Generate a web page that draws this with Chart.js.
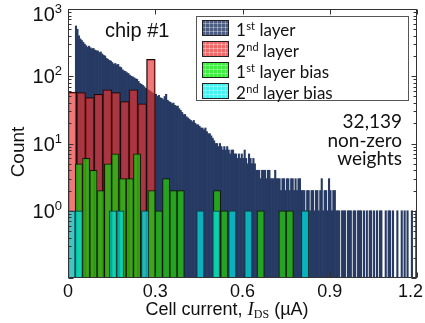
<!DOCTYPE html>
<html>
<head>
<meta charset="utf-8">
<script src="https://cdn.jsdelivr.net/npm/chart.js@4.4.1/dist/chart.umd.min.js"></script>
<style>
  html, body { margin: 0; padding: 0; background: #fff; }
</style>
</head>
<body>
<canvas id="histChart" width="425" height="323"></canvas>
<script>
// 1st layer weights, bins of 0.005 uA from 0 to 1.2
const layer1Bin = 0.005;
const layer1Counts = [
  0, 0, 0, 0, 0, 560, 500, 400, 360, 340,
  320, 300, 285, 270, 280, 265, 255, 260, 245, 240,
  238, 225, 230, 215, 205, 200, 185, 178, 172, 168,
  160, 150, 155, 148, 150, 138, 135, 125, 120, 118,
  113, 110, 104, 100, 98, 95, 92, 90, 84, 78,
  76, 73, 70, 66, 64, 62, 60, 58, 56, 54,
  54, 50, 52, 48, 47, 45, 50, 54, 44, 42,
  41, 39, 40, 37, 36, 36, 33, 31, 29, 27,
  27, 25, 24, 23, 22, 21, 22, 20, 19, 19,
  18, 17, 17, 16, 17, 15, 14, 14, 13, 12,
  11, 10, 10, 9, 10, 9, 8, 9, 8, 9,
  8, 7, 8, 8, 7, 7, 6, 7, 6, 7,
  6, 8, 6, 5, 7, 6, 5, 6, 5, 4,
  4, 4, 3, 4, 4, 4, 3, 4, 4, 3,
  3, 3, 4, 3, 3, 3, 2, 3, 3, 2,
  3, 3, 2, 3, 3, 2, 3, 2, 3, 3,
  2, 2, 2, 1, 2, 2, 1, 2, 2, 1,
  2, 2, 1, 2, 3, 1, 2, 2, 1, 3,
  2, 1, 2, 2, 1, 1, 1, 0, 1, 1,
  1, 0, 1, 1, 1, 0, 1, 1, 0, 1,
  1, 1, 0, 1, 0, 1, 0, 1, 1, 0,
  1, 0, 1, 0, 1, 1, 0, 0, 1, 0,
  1, 1, 0, 1, 0, 0, 1, 0, 0, 1,
  0, 1, 0, 1, 0, 0, 1, 0, 0, 1
];

// 2nd layer weights, bins of 0.03 uA
const layer2Bin = 0.03;
const layer2Counts = [58, 57, 48, 54, 63, 57, 42, 63, 39, 179];

// 1st layer bias, bins of 0.025 uA
const bias1Bin = 0.025;
const bias1Counts = [0, 5, 6, 4, 2, 5, 7, 3, 3, 7, 0, 2, 1, 3, 2, 2, 0, 0, 0, 0, 2, 1, 0, 0, 0, 0, 1, 0, 0, 1, 1];

// 2nd layer bias, bin centres (uA) and counts
const bias2Centers = [0.0125, 0.0375, 0.155, 0.18, 0.265, 0.455, 0.51, 0.565, 0.62, 0.815];
const bias2Counts = [1, 1, 1, 1, 1, 1, 1, 1, 1, 1];

const seriesLabels = ['1st layer', '2nd layer', '1st layer bias', '2nd layer bias'];
const xTickValues = [0, 0.3, 0.6, 0.9, 1.2];
const xTickLabels = ['0', '0.3', '0.6', '0.9', '1.2'];
const yTickValues = [1, 10, 100, 1000];

const fills = ['#263a63', 'rgba(233,54,54,0.67)', 'rgba(40,190,20,0.8)', 'rgba(0,228,228,0.7)'];
const swatchFills = ['#4c5b82', '#f26868', '#3cef3c', '#44f2f2'];

function binned(counts, w) {
  return counts.map((c, i) => ({ x: (i + 0.5) * w, y: c > 0 ? c : null }));
}

const SANS = '"Liberation Sans", Arial, sans-serif';
const SERIF = '"Liberation Serif", "Times New Roman", serif';
const CAL = 'Lato, "Open Sans", sans-serif';

// frame, inward ticks, tick labels, titles, legend and notes
const decorations = {
  id: 'decorations',
  afterDatasetsDraw(chart) {
    const { ctx, chartArea: a, scales } = chart;
    const xs = scales.x, ys = scales.y;
    const L = Math.round(a.left) + 0.5, R = Math.round(a.right) - 0.5;
    const T = Math.round(a.top) + 0.5, B = Math.round(a.bottom) - 0.5;
    ctx.save();
    ctx.strokeStyle = '#333';
    ctx.lineWidth = 1;
    ctx.strokeRect(L, T, R - L, B - T);

    ctx.beginPath();
    xTickValues.forEach(v => {
      const px = Math.round(xs.getPixelForValue(v)) + 0.5;
      ctx.moveTo(px, B); ctx.lineTo(px, B - 5);
      ctx.moveTo(px, T); ctx.lineTo(px, T + 5);
    });
    for (let d = 0.1; d < 1000; d *= 10) {
      for (let m = 1; m < 10; m++) {
        const v = d * m;
        const py = Math.round(ys.getPixelForValue(v)) + 0.5;
        const len = m === 1 ? 5 : 3;
        ctx.moveTo(L, py); ctx.lineTo(L + len, py);
        ctx.moveTo(R, py); ctx.lineTo(R - len, py);
      }
    }
    ctx.stroke();

    // y tick labels 10^n
    ctx.fillStyle = '#111';
    ctx.textBaseline = 'alphabetic';
    yTickValues.forEach(v => {
      const py = ys.getPixelForValue(v);
      const exp = String(Math.round(Math.log10(v)));
      ctx.font = '13px ' + SANS;
      const supW = ctx.measureText(exp).width;
      ctx.font = '20px ' + SANS;
      const baseW = ctx.measureText('10').width;
      const right = 62;
      const base = Math.max(py + 7, 21);
      ctx.textAlign = 'left';
      ctx.fillText('10', right - supW - baseW, base);
      ctx.font = '13px ' + SANS;
      ctx.fillText(exp, right - supW, base - 8);
    });

    // x tick labels
    ctx.font = '18px ' + SANS;
    ctx.textAlign = 'left';
    xTickValues.forEach((v, i) => {
      const w = ctx.measureText(xTickLabels[i]).width;
      let left = xs.getPixelForValue(v) - w / 2;
      if (left + w > 423) left = 423 - w;
      ctx.fillText(xTickLabels[i], left, 297);
    });

    // x title: Cell current, I_DS (uA)
    const parts = [
      { t: 'Cell current, ', f: '18px ' + SANS, dy: 0 },
      { t: 'I', f: 'italic 19px ' + SERIF, dy: 0 },
      { t: 'DS', f: '12px ' + SERIF, dy: 3 },
      { t: ' (\u00b5A)', f: '18px ' + SANS, dy: 0 }
    ];
    let total = 0;
    parts.forEach(p => { ctx.font = p.f; p.w = ctx.measureText(p.t).width; total += p.w; });
    let tx = 227 - total / 2;
    parts.forEach(p => { ctx.font = p.f; ctx.fillText(p.t, tx, 315 + p.dy); tx += p.w; });

    // y title
    ctx.save();
    ctx.translate(24, 152);
    ctx.rotate(-Math.PI / 2);
    ctx.font = '19px ' + SANS;
    ctx.textAlign = 'center';
    ctx.fillText('Count', 0, 0);
    ctx.restore();

    // chip label
    ctx.font = '20px ' + SANS;
    ctx.textAlign = 'left';
    ctx.fillText('chip #1', 105, 37);

    // note on the right
    ctx.font = '19px ' + CAL;
    ctx.textAlign = 'right';
    ctx.fillText('32,139', 402, 128);
    ctx.fillText('non-zero', 402, 146.5);
    ctx.fillText('weights', 402, 164.5);

    // legend
    const bx = 196.5, by = 16.5, bw = 212, bh = 84;
    ctx.fillStyle = '#fff';
    ctx.fillRect(bx, by, bw, bh);
    ctx.strokeStyle = '#555';
    ctx.strokeRect(bx, by, bw, bh);
    seriesLabels.forEach((lab, i) => {
      const sx = 202, sy = 20 + i * 21, sw = 27, sh = 16;
      ctx.fillStyle = swatchFills[i];
      ctx.fillRect(sx, sy, sw, sh);
      ctx.strokeStyle = 'rgba(255,255,255,0.35)';
      ctx.beginPath();
      for (let gx = sx + 3.5; gx < sx + sw; gx += 4) { ctx.moveTo(gx, sy); ctx.lineTo(gx, sy + sh); }
      for (let gy = sy + 3.5; gy < sy + sh; gy += 4) { ctx.moveTo(sx, gy); ctx.lineTo(sx + sw, gy); }
      ctx.stroke();
      ctx.strokeStyle = '#222';
      ctx.strokeRect(sx + 0.5, sy + 0.5, sw - 1, sh - 1);

      const m = lab.match(/^(\d)(st|nd|rd|th)(.*)$/);
      const base = sy + 15.5;
      let lx = 236;
      ctx.fillStyle = '#111';
      ctx.textAlign = 'left';
      ctx.font = '17px ' + CAL;
      ctx.fillText(m[1], lx, base);
      lx += ctx.measureText(m[1]).width + 0.5;
      ctx.font = '11px ' + CAL;
      ctx.fillText(m[2], lx, base - 6);
      lx += ctx.measureText(m[2]).width;
      ctx.font = '17px ' + CAL;
      ctx.fillText(m[3], lx, base);
    });
    ctx.restore();
  }
};

function xAxis(shown) {
  return {
    type: 'linear', min: 0, max: 1.2, position: 'bottom', offset: false,
    display: shown,
    grid: { display: false, drawTicks: false, offset: false }, border: { display: false },
    ticks: { display: false, stepSize: 0.3 },
    afterFit: s => { if (shown) s.height = 45; }
  };
}

const barOpts = { barPercentage: 1, categoryPercentage: 1, grouped: false };

new Chart(document.getElementById('histChart'), {
  type: 'bar',
  data: {
    datasets: [
      Object.assign({
        label: seriesLabels[0], data: binned(layer1Counts, layer1Bin), xAxisID: 'x',
        backgroundColor: fills[0], borderWidth: 0, order: 4
      }, barOpts),
      Object.assign({
        label: seriesLabels[1], data: binned(layer2Counts, layer2Bin), xAxisID: 'x2',
        backgroundColor: fills[1], borderColor: '#1a0808', borderWidth: 1, order: 3
      }, barOpts),
      Object.assign({
        label: seriesLabels[2], data: binned(bias1Counts, bias1Bin), xAxisID: 'x3',
        backgroundColor: fills[2], borderColor: 'rgba(10,20,0,0.9)', borderWidth: 1, order: 2
      }, barOpts),
      Object.assign({
        label: seriesLabels[3], data: bias2Centers.map((c, i) => ({ x: c, y: bias2Counts[i] })), xAxisID: 'x4',
        backgroundColor: fills[3], borderColor: '#0b3838', borderWidth: 1, order: 1
      }, barOpts)
    ]
  },
  options: {
    responsive: false,
    animation: false,
    devicePixelRatio: 1,
    layout: { padding: { top: 9, right: 8, left: 0, bottom: 0 } },
    plugins: { legend: { display: false }, tooltip: { enabled: false } },
    scales: {
      x: xAxis(true),
      x2: xAxis(false),
      x3: xAxis(false),
      x4: xAxis(false),
      y: {
        type: 'logarithmic', min: 0.1, max: 1000,
        grid: { display: false, drawTicks: false }, border: { display: false },
        ticks: { display: false },
        afterFit: s => { s.width = 68; }
      }
    }
  },
  plugins: [decorations]
});
</script>
</body>
</html>
